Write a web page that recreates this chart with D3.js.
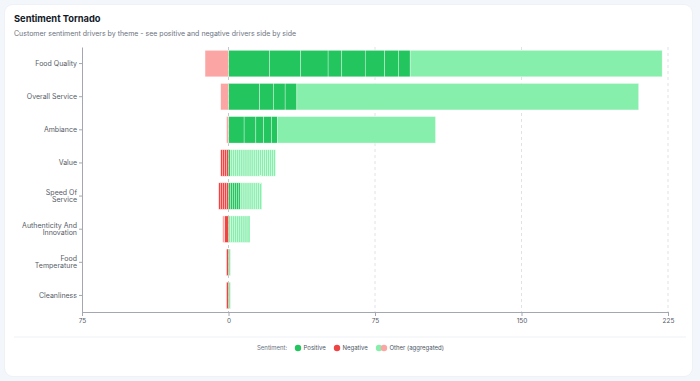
<!DOCTYPE html>
<html>
<head>
<meta charset="utf-8">
<script src="https://cdn.jsdelivr.net/npm/d3@7"></script>
<style>
  html, body { margin: 0; padding: 0; background: #f3f6fa; font-family: Inter, "Noto Sans", sans-serif; }
  .card { position: absolute; left: 5px; top: 5px; width: 687px; height: 371px; background: #fff; border-radius: 8px; box-shadow: 0 0 0 1px #eef1f5; }
  svg { position: absolute; left: 0; top: 0; }
  .axis text { font-family: Inter, sans-serif; fill: #555b66; }
  .axis path, .axis line { stroke: #a3a8b0; }
</style>
</head>
<body>
<div class="card"></div>
<svg id="chart" width="700" height="381"></svg>
<script>
const categories = ["Food Quality", "Overall Service", "Ambiance", "Value", "Speed Of Service", "Authenticity And Innovation", "Food Temperature", "Cleanliness"];
const labelLines = [["Food Quality"], ["Overall Service"], ["Ambiance"], ["Value"], ["Speed Of", "Service"], ["Authenticity And", "Innovation"], ["Food", "Temperature"], ["Cleanliness"]];
const ones = n => Array(n).fill(1);
const positive = [[21, 16, 14, 7, 12, 10, 7, 6], [16, 7, 6, 6], [8, 6, 4, 4, 3], [1], ones(6), [], [], []];
const positiveOther = [[129], [175], [81], ones(23), ones(11), ones(11), [1], [1]];
const negative = [[], [], [], ones(4), ones(5), [2], [1], [1]];
const negativeOther = [[12], [4], [1], [], [], [1], [], []];
const tickValues = [-75, 0, 75, 150, 225];

const colors = {pos: "#22c55e", neg: "#ef4444", posOther: "#86efac", negOther: "#fca5a5"};

const svg = d3.select("#chart");

svg.append("text").attr("x", 14).attr("y", 22)
    .style("font-size", "9.3px").style("font-weight", 700).style("fill", "#111827")
    .text("Sentiment Tornado");
svg.append("text").attr("x", 14).attr("y", 35.5)
    .style("font-size", "7px").style("fill", "#6b7280")
    .text("Customer sentiment drivers by theme - see positive and negative drivers side by side");

const x = d3.scaleLinear().domain([-75, 225]).range([82, 668]);
const y = d3.scaleBand().domain(categories).range([47, 312]).paddingInner(0.2).paddingOuter(0.1);

// grid
svg.append("g").selectAll("line")
    .data(tickValues.slice(1))
  .enter().append("line")
    .attr("x1", d => x(d)).attr("x2", d => x(d))
    .attr("y1", 47).attr("y2", 312)
    .attr("stroke", d => d === 0 ? "#c4c9d1" : "#dfe2e7")
    .attr("stroke-dasharray", "3,3");

// segments
const segs = [];
categories.forEach((c, i) => {
  let acc = 0;
  positive[i].forEach(v => { segs.push({c, x0: acc, x1: acc + v, t: "pos"}); acc += v; });
  positiveOther[i].forEach(v => { segs.push({c, x0: acc, x1: acc + v, t: "posOther"}); acc += v; });
  acc = 0;
  negative[i].forEach(v => { segs.push({c, x0: acc - v, x1: acc, t: "neg"}); acc -= v; });
  negativeOther[i].forEach(v => { segs.push({c, x0: acc - v, x1: acc, t: "negOther"}); acc -= v; });
});

svg.append("g").selectAll("rect")
    .data(segs)
  .enter().append("rect")
    .attr("x", d => x(d.x0))
    .attr("width", d => x(d.x1) - x(d.x0))
    .attr("y", d => y(d.c))
    .attr("height", y.bandwidth())
    .attr("fill", d => colors[d.t])
    .attr("stroke", "#fff")
    .attr("stroke-opacity", 0.7)
    .attr("stroke-width", 0.5);

// x axis
const xAxis = svg.append("g").attr("class", "axis")
    .attr("transform", "translate(0,312)")
    .call(d3.axisBottom(x).tickValues(tickValues).tickFormat(d => Math.abs(d)).tickSize(4).tickPadding(2));
xAxis.selectAll("text").style("font-size", "6.5px");

// y axis
const yAxis = svg.append("g").attr("class", "axis")
    .attr("transform", "translate(82,0)")
    .call(d3.axisLeft(y).tickSize(3).tickSizeOuter(0).tickFormat(""));
yAxis.selectAll(".tick").each(function(d, i) {
  const lines = labelLines[i];
  const t = d3.select(this).append("text")
      .attr("text-anchor", "end")
      .style("font-size", "7px");
  lines.forEach((l, j) => {
    t.append("tspan").attr("x", -5)
        .attr("y", lines.length === 1 ? 2.5 : (j === 0 ? -1.5 : 6))
        .text(l);
  });
});

// separator
svg.append("line").attr("x1", 14).attr("x2", 686).attr("y1", 337).attr("y2", 337)
    .attr("stroke", "#eef1f5");

// legend
const lg = svg.append("g").attr("transform", "translate(0,348)").style("font-size", "6px").style("fill", "#4b5563");
lg.append("text").attr("x", 257).attr("y", 2.2).style("fill", "#6b7280").text("Sentiment:");
const items = [
  {c: [colors.pos], label: "Positive", x: 298},
  {c: [colors.neg], label: "Negative", x: 337},
  {c: [colors.posOther, colors.negOther], label: "Other (aggregated)", x: 379}
];
items.forEach(it => {
  it.c.forEach((col, j) => lg.append("circle").attr("cx", it.x + j * 5).attr("cy", 0).attr("r", 3.2).attr("fill", col));
  lg.append("text").attr("x", it.x + 5.5 + (it.c.length - 1) * 5).attr("y", 2.2).text(it.label);
});
</script>
</body>
</html>
